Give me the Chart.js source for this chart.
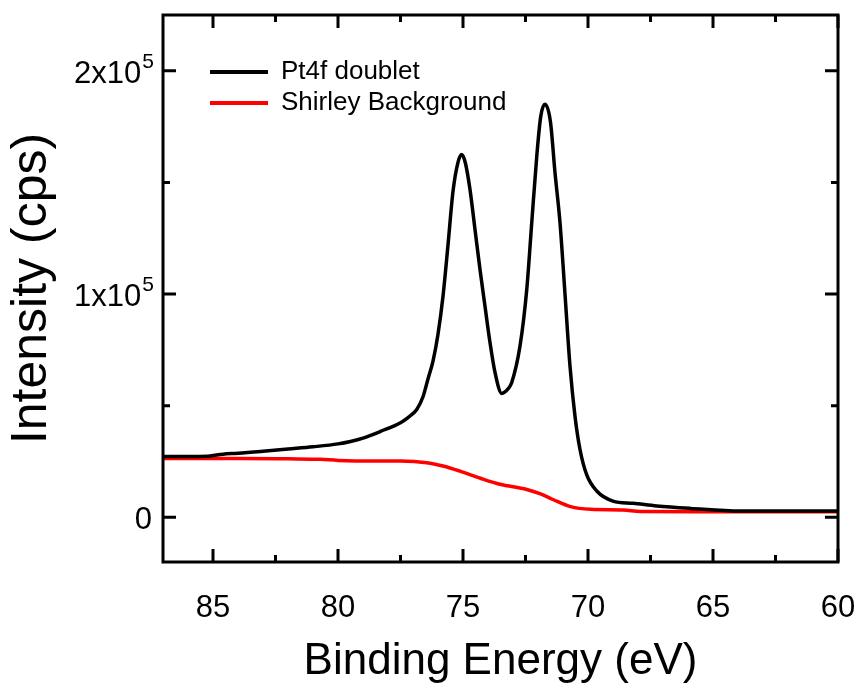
<!DOCTYPE html>
<html>
<head>
<meta charset="utf-8">
<script src="https://cdn.jsdelivr.net/npm/chart.js@4"></script>
<style>
html,body{margin:0;padding:0;background:#fff;overflow:hidden;}
#wrap{width:863px;height:688px;position:relative;}
canvas{display:block;}
</style>
</head>
<body>
<div id="wrap"><canvas id="c"></canvas></div>
<script>
// ---- data ----
const doubletEnergy = [87.0, 86.0, 85.2, 84.6, 84.0, 83.0, 82.0, 81.0, 80.0, 79.5, 79.0, 78.3, 77.5, 77.2, 76.85, 76.6, 76.4, 76.2, 76.0, 75.8, 75.6, 75.4, 75.2, 75.05, 74.9, 74.72, 74.52, 74.32, 74.12, 73.92, 73.72, 73.45, 73.2, 73.05, 72.72, 72.45, 72.25, 72.05, 71.89, 71.72, 71.5, 71.32, 71.12, 70.92, 70.72, 70.52, 70.32, 70.05, 69.65, 69.0, 68.2, 67.25, 65.9, 63.9, 62.0, 60.0];
const doubletCounts = [27300, 27300, 27400, 28300, 28700, 29600, 30600, 31600, 32900, 34000, 35500, 38500, 42400, 44700, 48300, 54000, 62000, 70000, 82000, 99000, 122000, 146000, 159000, 162500, 158500, 146800, 128900, 111000, 94500, 78300, 64900, 55500, 57500, 60400, 76700, 102000, 132000, 161700, 179600, 185000, 177000, 154400, 132000, 100000, 67700, 45300, 30400, 19000, 11800, 7300, 6300, 5100, 4000, 2800, 2800, 2800];
const shirleyEnergy = [87.0, 84.0, 82.0, 80.7, 80.0, 78.5, 77.5, 76.45, 75.8, 75.12, 74.3, 73.52, 72.45, 71.9, 71.4, 70.7, 69.9, 68.6, 67.9, 65.0, 60.0];
const shirleyCounts = [26400, 26400, 26200, 26000, 25500, 25200, 25200, 24500, 23000, 20700, 17500, 14800, 12500, 10500, 8000, 4800, 3600, 3300, 2600, 2500, 2500];
const seriesNames = ["Pt4f doublet", "Shirley Background"];
const xTickValues = [85, 80, 75, 70, 65, 60];
const xMinorTicks = [82.5, 77.5, 72.5, 67.5, 62.5];
const yTickValues = [0, 100000, 200000];
const yTickMantissa = ["0", "1x10", "2x10"];
const yTickExponent = ["", "5", "5"];
const yMinorTicks = [50000, 150000];
const xTitle = "Binding Energy (eV)";
const yTitle = "Intensity (cps)";

const FONT = "'Liberation Sans', Arial, Helvetica, sans-serif";

const toXY = (xs, ys) => xs.map((x, i) => ({x: x, y: ys[i]}));

const framePlugin = {
  id: 'frame',
  afterLayout(chart) {
    const lg = chart.legend;
    if (lg) {
      const w = lg.width, h = lg.height;
      lg.left = chart.chartArea.left + 42;
      lg.top = chart.chartArea.top + 39;
      lg.right = lg.left + w;
      lg.bottom = lg.top + h;
    }
  },
  afterDraw(chart) {
    const ctx = chart.ctx;
    const a = chart.chartArea;
    const xs = chart.scales.x, ys = chart.scales.y;
    ctx.save();
    ctx.strokeStyle = '#000';
    ctx.lineWidth = 3;
    ctx.lineCap = 'butt';
    const vt = (v, len) => {
      const px = xs.getPixelForValue(v);
      ctx.beginPath();
      ctx.moveTo(px, a.bottom); ctx.lineTo(px, a.bottom - len);
      ctx.moveTo(px, a.top); ctx.lineTo(px, a.top + len);
      ctx.stroke();
    };
    const ht = (v, len) => {
      const py = ys.getPixelForValue(v);
      ctx.beginPath();
      ctx.moveTo(a.left, py); ctx.lineTo(a.left + len, py);
      ctx.moveTo(a.right, py); ctx.lineTo(a.right - len, py);
      ctx.stroke();
    };
    xTickValues.forEach(v => vt(v, 13));
    xMinorTicks.forEach(v => vt(v, 7));
    yTickValues.forEach(v => ht(v, 13));
    yMinorTicks.forEach(v => ht(v, 7));
    ctx.strokeRect(a.left, a.top, a.right - a.left, a.bottom - a.top);
    // y tick labels with superscript exponent
    ctx.fillStyle = '#000';
    ctx.textBaseline = 'alphabetic';
    yTickValues.forEach((v, i) => {
      const py = ys.getPixelForValue(v);
      const base = py + 12;
      const exp = yTickExponent[i];
      if (exp) {
        ctx.font = '21px ' + FONT;
        const ew = ctx.measureText(exp).width;
        const right = a.left - 9;
        ctx.textAlign = 'left';
        ctx.fillText(exp, right - ew, base - 15);
        ctx.font = '31px ' + FONT;
        ctx.textAlign = 'right';
        ctx.fillText(yTickMantissa[i], right - ew - 1, base);
      } else {
        ctx.font = '31px ' + FONT;
        ctx.textAlign = 'right';
        ctx.fillText(yTickMantissa[i], a.left - 11, base);
      }
    });
    ctx.restore();
  }
};

new Chart(document.getElementById('c'), {
  type: 'line',
  data: {
    datasets: [
      {
        label: seriesNames[0],
        data: toXY(doubletEnergy, doubletCounts),
        borderColor: '#000000',
        backgroundColor: '#000000',
        borderWidth: 3.5,
        pointRadius: 0,
        cubicInterpolationMode: 'monotone',
        fill: false
      },
      {
        label: seriesNames[1],
        data: toXY(shirleyEnergy, shirleyCounts),
        borderColor: '#ff0000',
        backgroundColor: '#ff0000',
        borderWidth: 3.5,
        pointRadius: 0,
        cubicInterpolationMode: 'monotone',
        fill: false
      }
    ]
  },
  options: {
    responsive: true,
    maintainAspectRatio: false,
    animation: false,
    events: [],
    layout: { padding: { left: 0, right: 25, top: 15, bottom: 0 } },
    plugins: {
      tooltip: { enabled: false },
      legend: {
        position: 'chartArea',
        align: 'start',
        labels: {
          boxWidth: 58,
          boxHeight: 4,
          padding: 5,
          color: '#000',
          font: { family: FONT, size: 26 },
          generateLabels: (chart) => Chart.defaults.plugins.legend.labels.generateLabels(chart).map(l => Object.assign(l, { lineWidth: 0, fillStyle: l.strokeStyle }))
        }
      }
    },
    scales: {
      x: {
        type: 'linear',
        reverse: true,
        min: 60,
        max: 87,
        afterBuildTicks: (s) => { s.ticks = xTickValues.map(v => ({ value: v })); },
        afterFit: (s) => { s.height = 126; s.paddingLeft = 0; s.paddingRight = 0; },
        grid: { display: false },
        border: { display: false },
        ticks: { color: '#000', font: { family: FONT, size: 31 }, padding: 20, maxRotation: 0, autoSkip: false },
        title: { display: true, text: xTitle, color: '#000', font: { family: FONT, size: 44 }, padding: { top: 0, bottom: 0 } }
      },
      y: {
        type: 'linear',
        min: -20000,
        max: 225000,
        afterBuildTicks: (s) => { s.ticks = yTickValues.map(v => ({ value: v })); },
        afterFit: (s) => { s.width = 163; s.paddingTop = 0; s.paddingBottom = 0; },
        grid: { display: false },
        border: { display: false },
        ticks: { display: false },
        title: { display: true, text: yTitle, color: '#000', font: { family: FONT, size: 50 }, padding: { top: 2, bottom: 0 } }
      }
    }
  },
  plugins: [framePlugin]
});
</script>
</body>
</html>
